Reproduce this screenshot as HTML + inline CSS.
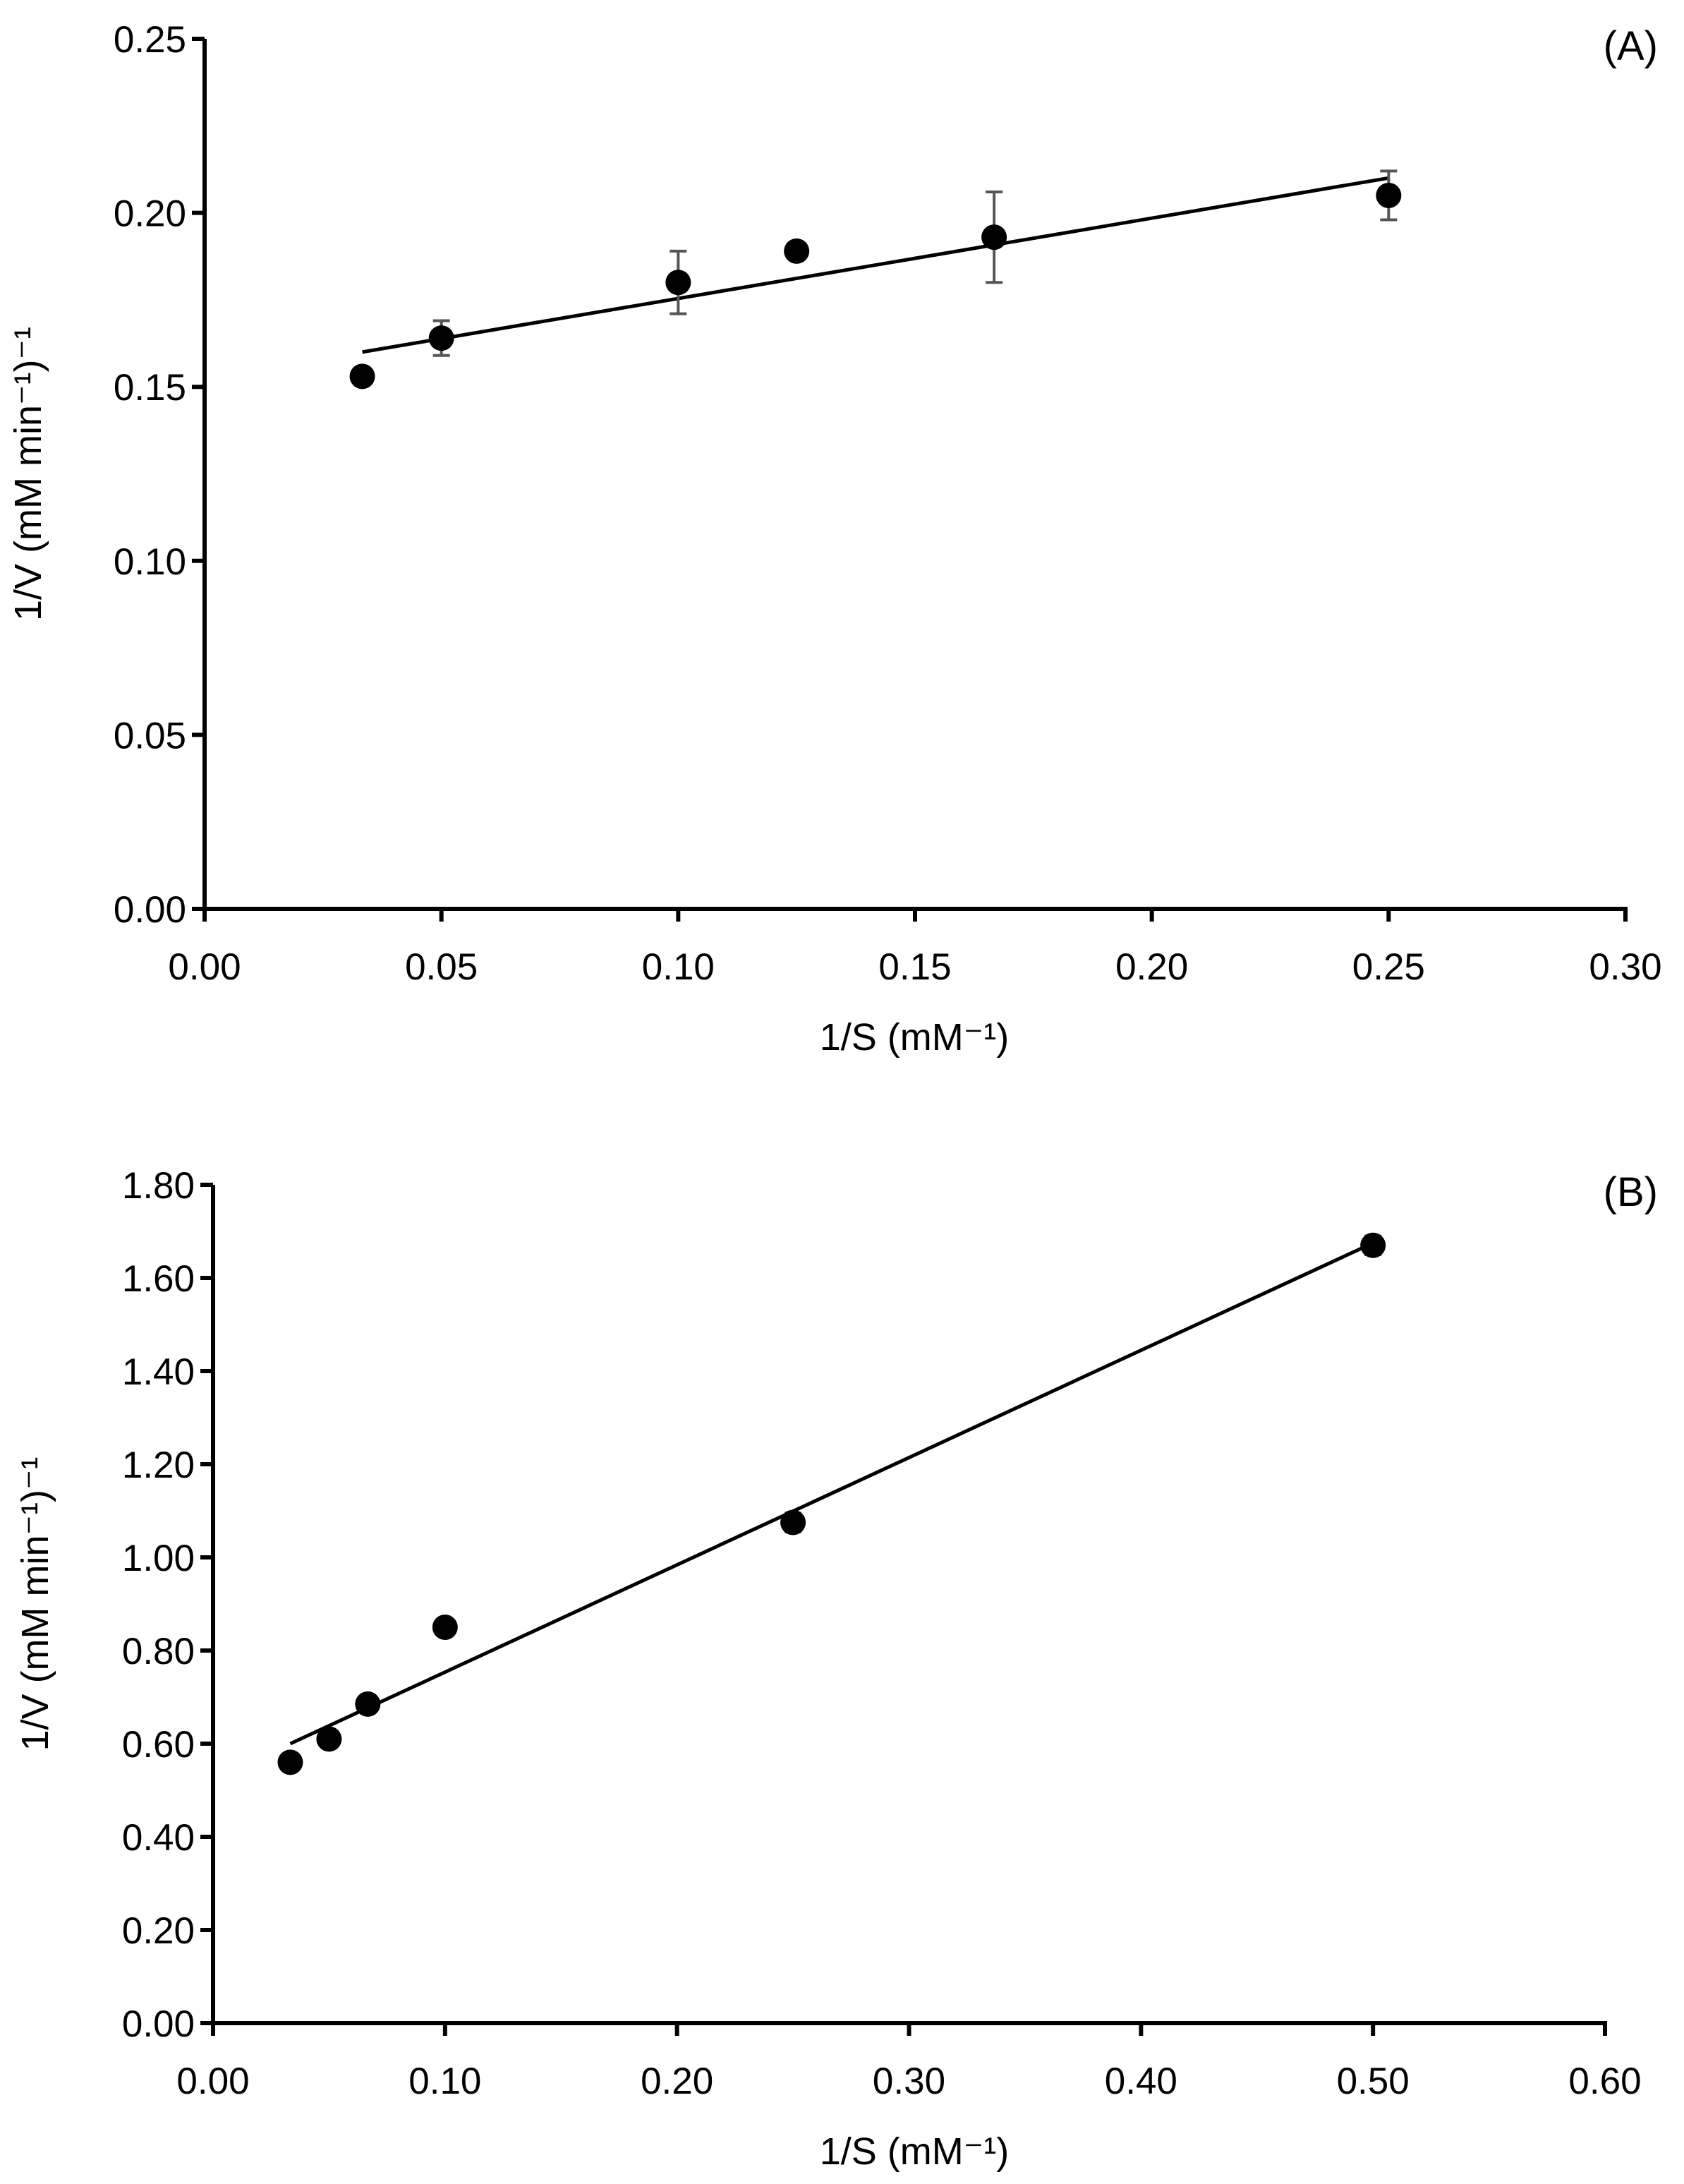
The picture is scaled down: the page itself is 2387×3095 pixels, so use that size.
<!DOCTYPE html>
<html><head><meta charset="utf-8"><style>
html,body{margin:0;padding:0;background:#fff;}
svg text{font-family:"Liberation Sans",Arial,sans-serif;fill:#000;}
</style></head><body>
<svg id="fig" width="2387" height="3090" viewBox="0 0 2387 3090" xmlns="http://www.w3.org/2000/svg"></svg>
<script>
// Panel A data
const aX = [0.0333, 0.05, 0.10, 0.125, 0.1667, 0.25];
const aY = [0.153, 0.164, 0.180, 0.189, 0.193, 0.205];
const aErr = [0, 0.005, 0.009, 0, 0.013, 0.007];
const aFitX = [0.0333, 0.25];
const aFitY = [0.160, 0.210];
const aXTicks = ["0.00","0.05","0.10","0.15","0.20","0.25","0.30"];
const aYTicks = ["0.00","0.05","0.10","0.15","0.20","0.25"];
// Panel B data
const bX = [0.0333, 0.05, 0.0667, 0.10, 0.25, 0.50];
const bY = [0.56, 0.61, 0.685, 0.85, 1.075, 1.67];
const bErr = [0, 0, 0, 0, 0.02, 0.02];
const bFitX = [0.0333, 0.50];
const bFitY = [0.60, 1.675];
const bXTicks = ["0.00","0.10","0.20","0.30","0.40","0.50","0.60"];
const bYTicks = ["0.00","0.20","0.40","0.60","0.80","1.00","1.20","1.40","1.60","1.80"];

const NS="http://www.w3.org/2000/svg";
const svg=document.getElementById('fig');
function mk(tag,attrs,parent){const e=document.createElementNS(NS,tag);for(const k in attrs)e.setAttribute(k,attrs[k]);(parent||svg).appendChild(e);return e;}

function panel(cfg){
  const g=mk('g',{});
  
  
  const xMax=parseFloat(cfg.xt[cfg.xt.length-1]), yMax=parseFloat(cfg.yt[cfg.yt.length-1]);
  const sx=v=>cfg.L+(v/xMax)*(cfg.R-cfg.L);
  const sy=v=>cfg.B-(v/yMax)*(cfg.B-cfg.T);
  const ya=mk('line',{x1:cfg.L,y1:cfg.T,x2:cfg.L,y2:cfg.B+3,stroke:'#000','stroke-width':6},g);
  
  
  const xa=mk('line',{x1:cfg.L-18,y1:cfg.B,x2:cfg.R+3,y2:cfg.B,stroke:'#000','stroke-width':6},g);
  
  
  cfg.yt.forEach(t=>{const y=sy(parseFloat(t));
    mk('line',{x1:cfg.L-18,y1:y,x2:cfg.L,y2:y,stroke:'#000','stroke-width':6},g);
    const tx=mk('text',{x:cfg.L-26,y:y+19,'text-anchor':'end','font-size':53},g);
    tx.textContent=t;
    
    
  });
  cfg.xt.forEach(t=>{const x=sx(parseFloat(t));
    mk('line',{x1:x,y1:cfg.B,x2:x,y2:cfg.B+18,stroke:'#000','stroke-width':6},g);
    const tx=mk('text',{x:x,y:cfg.B+100,'text-anchor':'middle','font-size':53},g);
    tx.textContent=t;
    
    
  });
  const fl=mk('line',{x1:sx(cfg.fx[0]),y1:sy(cfg.fy[0]),x2:sx(cfg.fx[1]),y2:sy(cfg.fy[1]),stroke:'#000','stroke-width':5},g);
  
  
  cfg.x.forEach((v,i)=>{ if(cfg.e[i]>0){const x=sx(v),y1=sy(cfg.y[i]-cfg.e[i]),y2=sy(cfg.y[i]+cfg.e[i]);
    const eb=mk('path',{d:`M${x},${y1}V${y2}M${x-12},${y1}H${x+12}M${x-12},${y2}H${x+12}`,stroke:'#555','stroke-width':4,fill:'none'},g);
    
    
  }});
  cfg.x.forEach((v,i)=>{
    const c=mk('circle',{cx:sx(v),cy:sy(cfg.y[i]),r:18,fill:'#000'},g);
    
    
  });
  const yl=mk('text',{x:0,y:0,'text-anchor':'middle','font-size':54,transform:`translate(${cfg.ylx},${(cfg.T+cfg.B)/2}) rotate(-90)`},g);
  yl.textContent='1/V (mM min⁻¹)⁻¹';
  
  
  const xl=mk('text',{x:1296,y:cfg.B+200,'text-anchor':'middle','font-size':54},g);
  xl.textContent='1/S (mM⁻¹)';
  
  
  const pl=mk('text',{x:2350,y:cfg.T+30,'text-anchor':'end','font-size':58},g);
  pl.textContent=cfg.label;
  
  
}
panel({name:'panel-a',L:290,R:2304,T:55,B:1288,x:aX,y:aY,e:aErr,fx:aFitX,fy:aFitY,xt:aXTicks,yt:aYTicks,ylx:58,label:'(A)'});
panel({name:'panel-b',L:302,R:2275,T:1679,B:2867,x:bX,y:bY,e:bErr,fx:bFitX,fy:bFitY,xt:bXTicks,yt:bYTicks,ylx:68,label:'(B)'});
</script>
</body></html>
